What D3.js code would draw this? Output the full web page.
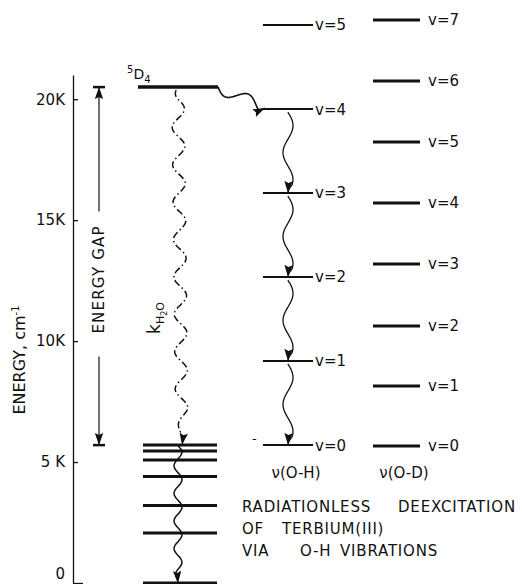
<!DOCTYPE html>
<html>
<head>
<meta charset="utf-8">
<script src="https://cdn.jsdelivr.net/npm/d3@7"></script>
<style>
  body { margin: 0; background: #fff; }
  text { font-family: "DejaVu Sans", sans-serif; fill: #111; }
</style>
</head>
<body>
<script>
// energy values in cm-1
var tickValues = [0, 5000, 10000, 15000, 20000];
var tickLabels = ["0", "5 K", "10K", "15K", "20K"];
var columns = ["Tb", "O-H", "O-D"];
var excitedLevel = 20500;                                   // 5D4
var groundLevels = [0, 2070, 3200, 4400, 5080, 5460, 5700]; // 7F manifold
var ohLevels = [5700, 9180, 12650, 16120, 19590, 23070];    // v=0..5
var odLevels = [5660, 8140, 10620, 13190, 15710, 18230, 20750, 23270]; // v=0..7

var W = 522, H = 584;

var svg = d3.select("body").append("svg")
	.attr("width", W)
	.attr("height", H);

var y = d3.scaleLinear().domain([0, 21000]).range([583, 75]);
var x = d3.scalePoint().domain(columns).range([180, 396]);

// arrow head
svg.append("defs").append("marker")
	.attr("id", "head")
	.attr("viewBox", "0 -5 12 10")
	.attr("refX", 12)
	.attr("refY", 0)
	.attr("markerUnits", "userSpaceOnUse")
	.attr("markerWidth", 12)
	.attr("markerHeight", 10)
	.attr("orient", "auto")
	.append("path")
	.attr("d", "M0,-4.2L12,0L0,4.2L2,0Z")
	.attr("fill", "#111");

// y axis
var yAxis = d3.axisLeft(y)
	.tickValues(tickValues)
	.tickFormat(function(d, i) { return tickLabels[i]; })
	.tickSizeInner(-5)
	.tickSizeOuter(0)
	.tickPadding(8);

var gAxis = svg.append("g")
	.attr("transform", "translate(73,0)")
	.call(yAxis);
gAxis.select(".domain").attr("stroke", "#111").attr("stroke-width", 1.3);
gAxis.selectAll(".tick line").attr("stroke", "#111").attr("stroke-width", 1.3)
	.attr("x2", function(d) { return d === 0 ? 10 : 5; });
gAxis.selectAll(".tick text")
	.attr("font-family", "DejaVu Sans, sans-serif")
	.attr("font-size", 15)
	.attr("fill", "#111")
	.attr("dy", function(d) { return d === 0 ? "-0.32em" : "0.32em"; });

svg.append("text")
	.attr("transform", "translate(25,360) rotate(-90)")
	.attr("text-anchor", "middle")
	.attr("font-size", 16)
	.text("ENERGY, cm")
	.append("tspan")
	.attr("dy", -6)
	.attr("font-size", 10)
	.text("-1");

// wavy path between two points, tapering near the end so the head points along the line
function wavy(x0, y0, x1, y1, amp, periods, phase) {
	var dx = x1 - x0, dy = y1 - y0;
	var len = Math.sqrt(dx * dx + dy * dy);
	var ux = dx / len, uy = dy / len;
	var nx = uy, ny = -ux;
	var pts = d3.range(0, 1.0001, 1 / 120).map(function(t) {
		var env = Math.min(1, (1 - t) / 0.1, t / 0.04 + 0.3);
		var off = amp * env * Math.sin(2 * Math.PI * periods * t + phase);
		return [x0 + dx * t + nx * off, y0 + dy * t + ny * off];
	});
	return d3.line().curve(d3.curveBasis)(pts);
}

function levelLine(cls, data, left, right, width) {
	svg.selectAll("line." + cls)
		.data(data)
		.enter()
		.append("line")
		.attr("class", cls)
		.attr("x1", left)
		.attr("x2", right)
		.attr("y1", function(d) { return y(d); })
		.attr("y2", function(d) { return y(d); })
		.attr("stroke", "#111")
		.attr("stroke-width", width);
}

// Tb(III) levels
levelLine("excited", [excitedLevel], x("Tb") - 42, x("Tb") + 38, 3.5);
levelLine("ground", groundLevels, x("Tb") - 37, x("Tb") + 37, 3);

svg.append("text")
	.attr("x", 127)
	.attr("y", 79)
	.attr("font-size", 14)
	.call(function(t) {
		t.append("tspan").attr("dy", -6).attr("font-size", 10).text("5");
		t.append("tspan").attr("dy", 6).text("D");
		t.append("tspan").attr("dy", 4).attr("font-size", 10).text("4");
	});

// nonradiative decay 5D4 -> 7F0 (dash-dot wave)
svg.append("path")
	.attr("d", wavy(x("Tb") - 2, y(excitedLevel) + 3, x("Tb") + 2, y(groundLevels[6]), 6.5, 9.5, -Math.PI / 2))
	.attr("fill", "none")
	.attr("stroke", "#111")
	.attr("stroke-width", 1.5)
	.attr("stroke-dasharray", "7,3,1.5,3")
	.attr("marker-end", "url(#head)");

// 7F0 -> 7F6
svg.append("path")
	.attr("d", wavy(x("Tb") - 2, y(groundLevels[6]), x("Tb") - 2, y(groundLevels[0]), 4, 5, 0))
	.attr("fill", "none")
	.attr("stroke", "#111")
	.attr("stroke-width", 1.5)
	.attr("marker-end", "url(#head)");

svg.append("text")
	.attr("transform", "translate(160,318) rotate(-90)")
	.attr("text-anchor", "middle")
	.attr("font-size", 17)
	.call(function(t) {
		t.append("tspan").text("k");
		t.append("tspan").attr("dy", 4).attr("font-size", 11).text("H");
		t.append("tspan").attr("dy", 3).attr("font-size", 8).text("2");
		t.append("tspan").attr("dy", -3).attr("font-size", 11).text("O");
	});

// energy gap arrow
var gapX = 99;
var gapTop = y(excitedLevel), gapBot = y(groundLevels[6]);
var gapMid = y(12550);
[[gapMid - 68, gapTop], [gapMid + 77, gapBot]].forEach(function(seg) {
	svg.append("line")
		.attr("x1", gapX).attr("x2", gapX)
		.attr("y1", seg[0]).attr("y2", seg[1])
		.attr("stroke", "#111")
		.attr("stroke-width", 1.2)
		.attr("marker-end", "url(#head)");
	svg.append("line")
		.attr("x1", gapX - 6).attr("x2", gapX + 6)
		.attr("y1", seg[1]).attr("y2", seg[1])
		.attr("stroke", "#111")
		.attr("stroke-width", 2.5);
});
svg.append("text")
	.attr("transform", "translate(" + (gapX + 5) + "," + gapMid + ") rotate(-90)")
	.attr("text-anchor", "middle")
	.attr("font-size", 15)
	.attr("letter-spacing", 1.2)
	.text("ENERGY GAP");

// O-H ladder
levelLine("oh", ohLevels, x("O-H") - 25, x("O-H") + 25, 2);
svg.selectAll("text.oh")
	.data(ohLevels)
	.enter()
	.append("text")
	.attr("class", "oh")
	.attr("x", x("O-H") + 27)
	.attr("y", function(d) { return y(d); })
	.attr("dy", "0.36em")
	.attr("font-size", 15)
	.text(function(d, i) { return "v=" + i; });

// 5D4 -> O-H v=4
svg.append("path")
	.attr("d", wavy(x("Tb") + 38, y(excitedLevel), x("O-H") - 23, y(ohLevels[4]) - 1, 6, 1.25, Math.PI))
	.attr("fill", "none")
	.attr("stroke", "#111")
	.attr("stroke-width", 1.6)
	.attr("marker-end", "url(#head)");

// cascade down the O-H ladder
d3.range(4, 0, -1).forEach(function(v) {
	svg.append("path")
		.attr("d", wavy(x("O-H"), y(ohLevels[v]) + 3, x("O-H"), y(ohLevels[v - 1]), 5, 1.5, 0))
		.attr("fill", "none")
		.attr("stroke", "#111")
		.attr("stroke-width", 1.3)
		.attr("marker-end", "url(#head)");
});

svg.append("text")
	.attr("x", x("O-H") - 36)
	.attr("y", y(ohLevels[0]) - 2)
	.attr("font-size", 13)
	.text("-");

// O-D ladder
levelLine("od", odLevels, x("O-D") - 23, x("O-D") + 24, 3);
svg.selectAll("text.od")
	.data(odLevels)
	.enter()
	.append("text")
	.attr("class", "od")
	.attr("x", x("O-D") + 32)
	.attr("y", function(d) { return y(d); })
	.attr("dy", "0.36em")
	.attr("font-size", 15)
	.text(function(d, i) { return "v=" + i; });

// column labels
svg.selectAll("text.col")
	.data(["ν(O-H)", "ν(O-D)"])
	.enter()
	.append("text")
	.attr("class", "col")
	.attr("x", function(d, i) { return x(columns[i + 1]) + 8; })
	.attr("y", 478)
	.attr("text-anchor", "middle")
	.attr("font-size", 15)
	.text(function(d) { return d; });

// caption
var caption = [
	[["RADIATIONLESS", 242], ["DEEXCITATION", 398]],
	[["OF", 242], ["TERBIUM(III)", 282]],
	[["VIA", 242], ["O-H", 300], ["VIBRATIONS", 340]]
];
caption.forEach(function(row, r) {
	var t = svg.append("text")
		.attr("y", 512 + r * 22)
		.attr("font-size", 15)
		.attr("letter-spacing", 0.8);
	row.forEach(function(w) {
		t.append("tspan").attr("x", w[1]).text(w[0]);
	});
});
</script>
</body>
</html>
